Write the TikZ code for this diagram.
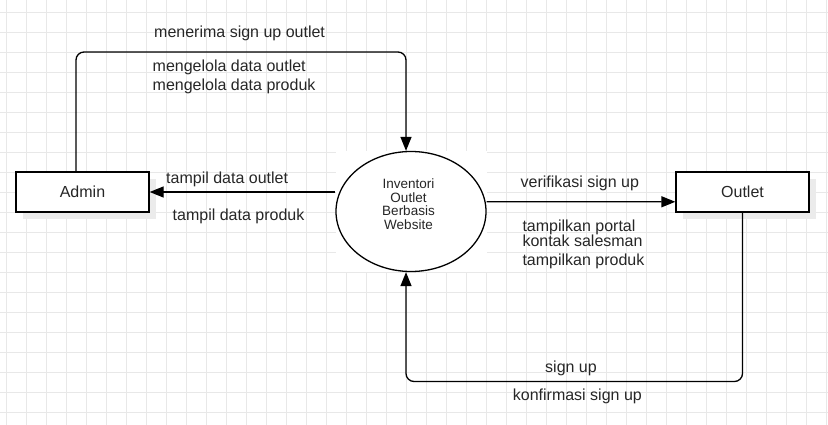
\documentclass[tikz,border=0pt]{standalone}
\usepackage{fontspec}
\setmainfont{Liberation Sans}
\usetikzlibrary{arrows.meta,shapes.geometric,shadows}

\newcommand{\lb}{\fontsize{16}{18.5}\selectfont}

\begin{document}
\begin{tikzpicture}[x=1pt,y=-1pt,
  gridline/.style={draw=black!9,line width=0.9pt},
  entity/.style={rectangle,draw,fill=white,line width=1.3pt,minimum width=133pt,minimum height=40pt,inner sep=0pt,
    font=\lb,text=black!85,drop shadow={shadow xshift=7pt,shadow yshift=-7pt,fill=black!8,opacity=1}},
  proc/.style={ellipse,draw,fill=white,line width=1.3pt,minimum width=150pt,minimum height=120pt,inner sep=0pt},
  flow/.style={-{Triangle[length=14pt,width=11pt]},line width=1.3pt,rounded corners=8pt},
  lbl/.style={anchor=base west,inner sep=0pt,font=\lb,text=black!85}]
  \useasboundingbox (0,0) rectangle (828,425);
  \foreach \gx in {6.5,26.5,...,826.5} \draw[gridline] (\gx,0) -- (\gx,425);
  \foreach \gy in {12.3,32.3,...,412.3} \draw[gridline] (0,\gy) -- (828,\gy);
  %
  \fill[white] (335.5,151.5) rectangle (486.5,271.5);
  \node[entity] (admin) at (82.5,192) {Admin};
  \node[entity] (outlet) at (742.5,192) {Outlet};
  \node[proc] (web) at (411,211.5) {};
  \node[align=center,inner sep=0pt,font=\fontsize{13.5}{13.5}\selectfont,text=black!85] (webtext) at (408.5,204.3)
    {Inventori\\Outlet\\Berbasis\\Website};
  %
  \coordinate (tl) at (76,52);
  \coordinate (tr) at (406,52);
  \draw[flow] ([xshift=-6.5pt]admin.north) -- (tl) -- (tr) -- (tr |- web.north);
  \node[lbl] (l1) at (154,38) {menerima sign up outlet};
  \node[lbl] (l2) at (152.5,72) {mengelola data outlet};
  \node[lbl] (l3) at (152.5,90.5) {mengelola data produk};
  %
  \draw[flow] ([yshift=19.5pt]web.west) -- (admin.east);
  \node[lbl] (l4) at (166,183.5) {tampil data outlet};
  \node[lbl] (l5) at (172.5,221) {tampil data produk};
  %
  \draw[flow] ([yshift=9.8pt]web.east) -- ([yshift=-9.8pt]outlet.west);
  \node[lbl] (l6) at (520.5,188) {verifikasi sign up};
  \node[lbl] (l7) at (522.3,231.3) {tampilkan portal};
  \node[lbl] (l8) at (522.3,246.7) {kontak salesman};
  \node[lbl] (l9) at (522.3,265.3) {tampilkan produk};
  %
  \coordinate (bl) at (406,381.5);
  \draw[flow] (outlet.south) |- (bl) -- (bl |- web.south);
  \node[lbl,anchor=base] (l10) at (571,372.7) {sign up};
  \node[lbl] (l11) at (512.7,400.7) {konfirmasi sign up};
\end{tikzpicture}
\end{document}
